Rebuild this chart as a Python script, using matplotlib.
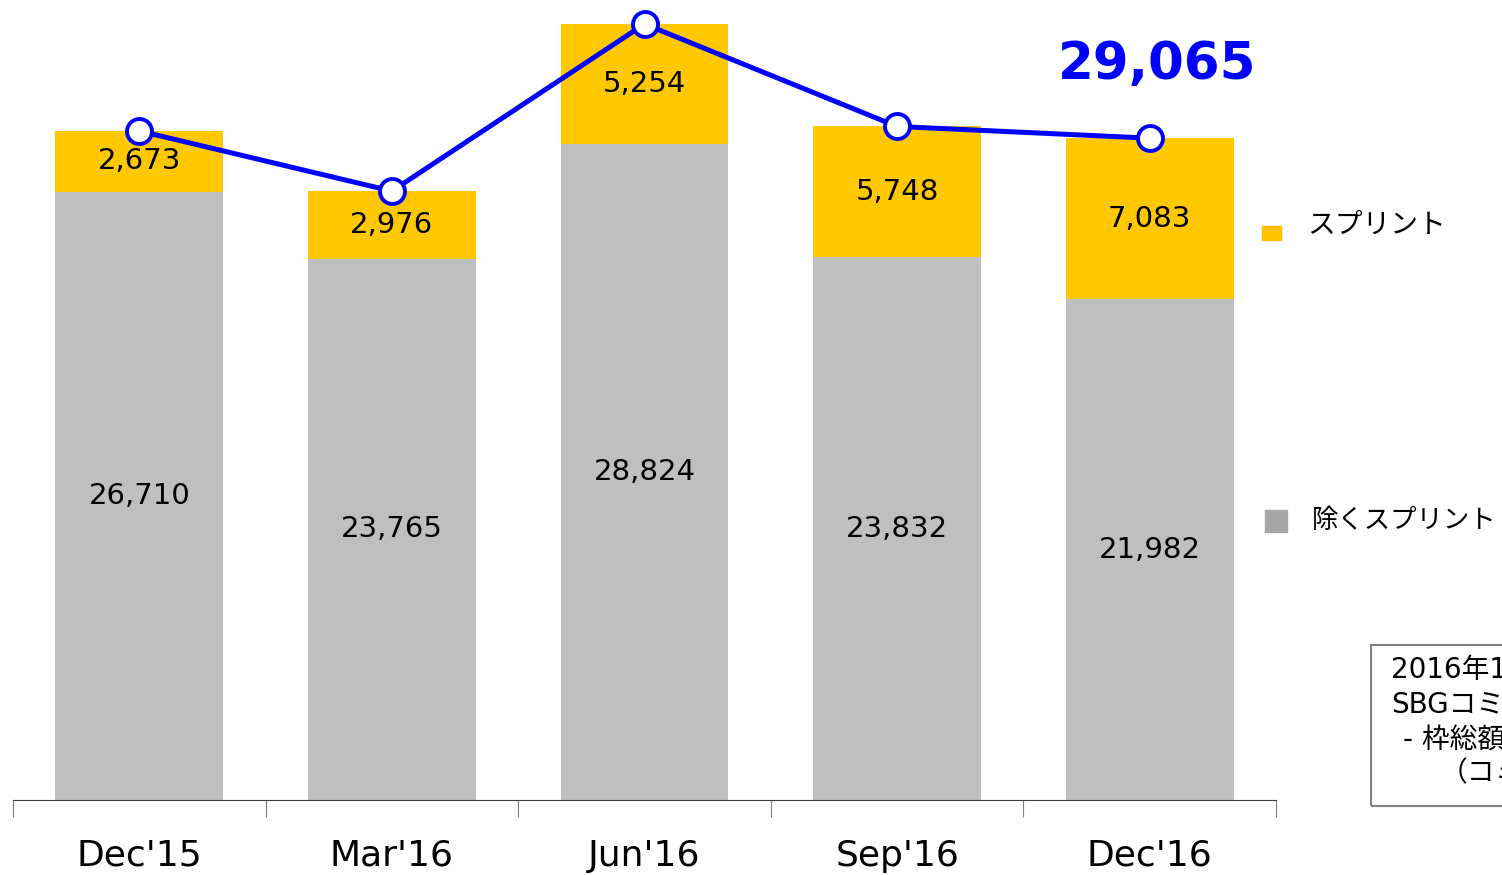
import matplotlib.pyplot as plt
from matplotlib.patches import Rectangle

quarters = ["Dec'15", "Mar'16", "Jun'16", "Sep'16", "Dec'16"]
other = [26710, 23765, 28824, 23832, 21982]
sprint = [2673, 2976, 5254, 5748, 7083]
totals = [o + s for o, s in zip(other, sprint)]

gray = '#BFBFBF'
yellow = '#FFC800'
blue = '#0000FF'
jp = ['Noto Sans CJK JP', 'DejaVu Sans']
mixed = ['DejaVu Sans', 'Noto Sans CJK JP']

W, H = 1502, 875
fig = plt.figure(figsize=(W / 100, H / 100), dpi=100)
ax = fig.add_axes([13 / W, 75 / H, 1263 / W, 800 / H])

x = list(range(len(quarters)))
ax.bar(x, other, width=0.665, color=gray)
ax.bar(x, sprint, width=0.665, bottom=other, color=yellow)

for i in x:
    ax.text(i, other[i] / 2, f'{other[i]:,}', ha='center', va='center', fontsize=21)
    ax.text(i, other[i] + sprint[i] / 2, f'{sprint[i]:,}', ha='center', va='center', fontsize=21)

ax.plot(x, totals, color=blue, lw=3.6, marker='o', ms=18, mfc='white', mec=blue, mew=2.8,
        clip_on=False, zorder=5)
ax.text(x[-1] + 0.03, totals[-1] + 3200, f'{totals[-1]:,}', ha='center', va='center',
        fontsize=37, fontweight='bold', color=blue)

ax.set_xlim(-0.5, 4.5)
ax.set_ylim(0, 800 / 0.02277)
for s in ['left', 'right', 'top']:
    ax.spines[s].set_visible(False)
ax.spines['bottom'].set_color('#404040')
ax.set_yticks([])
ax.set_xticks([i - 0.5 for i in range(6)])
ax.set_xticklabels([])
ax.tick_params(axis='x', which='major', length=12, color='#808080')
ax.set_xticks(x, minor=True)
ax.set_xticklabels(quarters, minor=True, fontsize=26)
ax.tick_params(axis='x', which='minor', length=0, pad=28)

# legend
fig.patches.append(Rectangle((1262 / W, 1 - 240 / H), 19 / W, 14 / H, transform=fig.transFigure,
                             color='#FFC000'))
fig.text(1307 / W, 1 - 225 / H, 'スプリント', fontsize=20, va='center', family=jp)
fig.patches.append(Rectangle((1265 / W, 1 - 532 / H), 22 / W, 22 / H, transform=fig.transFigure,
                             color='#A6A6A6'))
fig.text(1312 / W, 1 - 520 / H, '除くスプリント', fontsize=19, va='center', family=jp)

# note box (cut off at right edge, as in the source slide)
fig.patches.append(Rectangle((1371 / W, 1 - 806 / H), 200 / W, 161 / H, transform=fig.transFigure,
                             fill=False, edgecolor='#808080', lw=1.5))
notes = [('2016年12月末時点', 1391, 670), ('SBGコミットメントライン', 1391, 705),
         ('- 枠総額', 1403, 740), ('（コミット済）', 1440, 773)]
for txt, px, py in notes:
    fig.text(px / W, 1 - py / H, txt, fontsize=20, va='center', family=mixed)

fig.savefig('out.png', dpi=100)
